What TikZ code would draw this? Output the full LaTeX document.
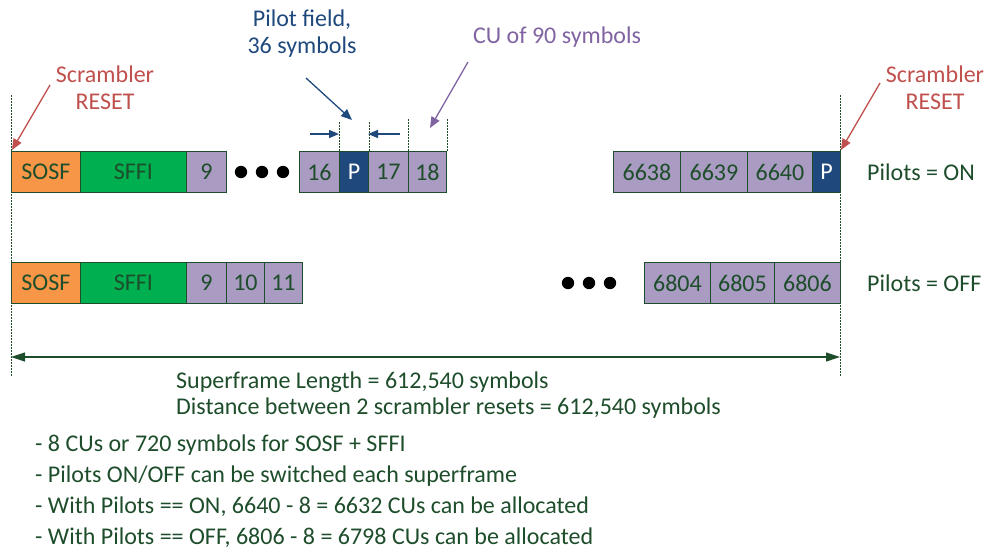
\documentclass[tikz,border=0pt]{standalone}
\usepackage{fontspec}
\setmainfont{Carlito}
\usetikzlibrary{arrows.meta}
\definecolor{dkgreen}{HTML}{1E4D2B}
\definecolor{sosfc}{HTML}{F79646}
\definecolor{sffic}{HTML}{00B050}
\definecolor{cuc}{HTML}{A99BC1}
\definecolor{pc}{HTML}{1F497D}
\definecolor{redc}{HTML}{C0504D}
\definecolor{purc}{HTML}{8064A2}
\tikzset{
  base/.style={draw=dkgreen, line width=0.9pt, minimum height=41pt, inner sep=0pt, anchor=west, text=dkgreen, font=\fontsize{24}{27}\selectfont},
  sosf/.style={base, fill=sosfc},
  sffi/.style={base, fill=sffic},
  cu/.style={base, fill=cuc},
  pil/.style={base, fill=pc, text=white},
  guide/.style={dkgreen, line width=0.5pt, dash pattern=on 2pt off 1pt},
  lbl/.style={font=\fontsize{24}{27}\selectfont, align=center, inner sep=0pt},
  txt/.style={font=\fontsize{24}{27}\selectfont, text=dkgreen, anchor=west, inner sep=0pt},
  redarr/.style={redc, line width=1.3pt, -{Triangle[length=11pt,width=9pt]}},
  bluearr/.style={pc, line width=1.3pt, -{Triangle[length=11pt,width=9pt]}},
  purarr/.style={purc, line width=1.3pt, -{Triangle[length=11pt,width=9pt]}},
  dimarr/.style={dkgreen, line width=1.2pt, {Triangle[length=14pt,width=9pt]}-{Triangle[length=14pt,width=9pt]}},
}
\begin{document}
\begin{tikzpicture}[x=1pt,y=-1pt]
\useasboundingbox (0,0) rectangle (986,549);
% row 1
\node[sosf, minimum width=69pt] (a1) at (11,172) {SOSF};
\node[sffi, minimum width=106pt] (b1) at (80,172) {SFFI};
\node[cu, minimum width=40pt] (c9) at (186,172) {9};
\foreach \x in {241,262,283} \fill (\x,172) circle (6.2pt);
\node[cu, minimum width=40pt] (c16) at (299,172) {16};
\node[pil, minimum width=29pt] (p1) at (339,172) {P};
\node[cu, minimum width=40pt] (c17) at (368,172) {17};
\node[cu, minimum width=38pt] (c18) at (408,172) {18};
\node[cu, minimum width=67pt] (c6638) at (613,172) {6638};
\node[cu, minimum width=67pt] (c6639) at (680,172) {6639};
\node[cu, minimum width=65pt] (c6640) at (747,172) {6640};
\node[pil, minimum width=28pt] (p2) at (812,172) {P};
\node[txt] (on) at (867,172) {Pilots = ON};
% row 2
\node[sosf, minimum width=69pt] (a2) at (11,283) {SOSF};
\node[sffi, minimum width=106pt] (b2) at (80,283) {SFFI};
\node[cu, minimum width=40pt] (d9) at (186,283) {9};
\node[cu, minimum width=38pt] (d10) at (226,283) {10};
\node[cu, minimum width=38pt] (d11) at (264,283) {11};
\foreach \x in {568,589,610} \fill (\x,283) circle (6.2pt);
\node[cu, minimum width=66pt] (d6804) at (644,283) {6804};
\node[cu, minimum width=64pt] (d6805) at (710,283) {6805};
\node[cu, minimum width=66pt] (d6806) at (774,283) {6806};
\node[txt] (off) at (867,283) {Pilots = OFF};
% guide lines
\coordinate (lt) at (11,95); \coordinate (lb) at (11,376);
\coordinate (rt) at (840,95); \coordinate (rb) at (840,376);
\draw[guide] (lt) -- (lb);
\draw[guide] (rt) -- (rb);
\draw[guide] (p1.north west) -- ++(0,-29);
\draw[guide] (p1.north east) -- ++(0,-29);
\draw[guide] (c18.north west) -- ++(0,-32);
\draw[guide] (c18.north east) -- ++(0,-32);
% pilot field small arrows
\coordinate (pa) at (310,134); \coordinate (pb) at (339,134);
\coordinate (pc1) at (400,134); \coordinate (pd) at (368,134);
\draw[pc, line width=1.3pt, -{Triangle[length=10pt,width=8pt]}] (pa) -- (pb);
\draw[pc, line width=1.3pt, -{Triangle[length=10pt,width=8pt]}] (pc1) -- (pd);
% labels
\node[lbl, text=redc] (sl) at (105,88) {Scrambler\\RESET};
\node[lbl, text=redc] (sr) at (935,88) {Scrambler\\RESET};
\node[lbl, text=pc] (pf) at (302,34) {Pilot field,\\36 symbols};
\node[lbl, text=purc] (cul) at (557,37) {CU of 90 symbols};
\coordinate (sls) at (50,85); \coordinate (sle) at (12,150);
\coordinate (srs) at (880,83); \coordinate (sre) at (841,150);
\coordinate (pfs) at (306,78); \coordinate (pfe) at (352,120);
\coordinate (cus) at (468,62); \coordinate (cue) at (430,128);
\draw[redarr] (sls) -- (sle);
\draw[redarr] (srs) -- (sre);
\draw[bluearr] (pfs) -- (pfe);
\draw[purarr] (cus) -- (cue);
% dimension
\coordinate (dl) at (11,357); \coordinate (dr) at (840,357);
\draw[dimarr] (dl) -- (dr);
\node[txt] (t1) at (176,382) {Superframe Length = 612,540 symbols};
\node[txt] (t2) at (176,408) {Distance between 2 scrambler resets = 612,540 symbols};
\node[txt] (t3) at (35,445) {- 8 CUs or 720 symbols for SOSF + SFFI};
\node[txt] (t4) at (35,476) {- Pilots ON/OFF can be switched each superframe};
\node[txt] (t5) at (35,507) {- With Pilots == ON, 6640 - 8 = 6632 CUs can be allocated};
\node[txt] (t6) at (35,538) {- With Pilots == OFF, 6806 - 8 = 6798 CUs can be allocated};
\end{tikzpicture}
\end{document}
